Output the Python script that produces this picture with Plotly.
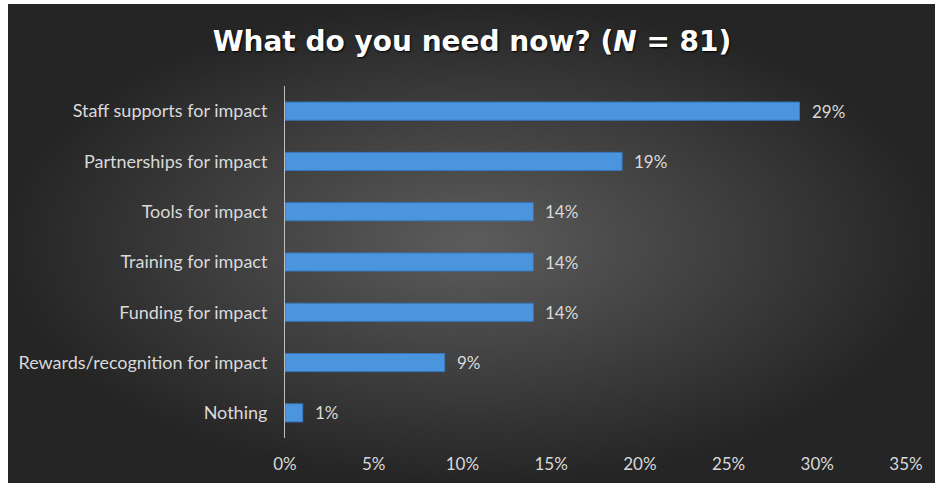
import plotly.graph_objects as go

categories = [
    "Staff supports for impact",
    "Partnerships for impact",
    "Tools for impact",
    "Training for impact",
    "Funding for impact",
    "Rewards/recognition for impact",
    "Nothing",
]
values = [0.29, 0.19, 0.14, 0.14, 0.14, 0.09, 0.01]
value_labels = ["29%", "19%", "14%", "14%", "14%", "9%", "1%"]
x_ticks = [0, 0.05, 0.10, 0.15, 0.20, 0.25, 0.30, 0.35]
x_tick_labels = ["0%", "5%", "10%", "15%", "20%", "25%", "30%", "35%"]
title_text = "What do you need now? (<i>N</i> = 81)"

W, H = 935, 483
FONT = "Lato"
LABEL_COLOR = "#d9d9d9"
EDGE = "#252525"

fig = go.Figure()

# background panel with radial gradient (full-figure helper axes)
bx0, bx1, by0, by1 = 8, W, 0, H - 4
fig.add_trace(go.Scatter(
    x=[bx0, bx1, bx1, bx0, bx0], y=[by0, by0, by1, by1, by0],
    mode="lines", fill="toself", line=dict(width=0),
    fillgradient=dict(type="radial",
                      colorscale=[[0, "#5c5c5c"], [0.55, "#3e3e3e"], [1, EDGE]]),
    hoverinfo="skip", showlegend=False, xaxis="x", yaxis="y",
))

fig.add_trace(go.Bar(
    x=values, y=categories, orientation="h",
    marker=dict(color="#4b94de", line=dict(color="#3677bd", width=1)),
    xaxis="x2", yaxis="y2", showlegend=False, hoverinfo="skip",
))

for v, c, t in zip(values, categories, value_labels):
    fig.add_annotation(x=v, y=c, xref="x2", yref="y2", text=t, showarrow=False,
                       xanchor="left", xshift=10,
                       font=dict(family=FONT, size=17, color=LABEL_COLOR))

# white page strips around the embedded chart picture
fig.add_shape(type="rect", xref="paper", yref="paper", x0=0, x1=8 / W, y0=0, y1=1,
              fillcolor="white", line=dict(width=0), layer="above")
fig.add_shape(type="rect", xref="paper", yref="paper", x0=0, x1=1, y0=1 - 4 / H, y1=1,
              fillcolor="white", line=dict(width=0), layer="above")

px0, px1 = 285, 906
py_top, py_bot = 86, 438

fig.update_layout(
    template="none",
    width=W, height=H,
    margin=dict(l=0, r=0, t=0, b=0, pad=0),
    paper_bgcolor=EDGE, plot_bgcolor="rgba(0,0,0,0)",
    title=dict(text=title_text, x=472 / W, xanchor="center", y=1 - 41 / H, yanchor="middle",
               font=dict(family="DejaVu Sans", size=28, color="white", weight="bold",
                         shadow="1px 1px 2px #000000")),
    xaxis=dict(domain=[0, 1], range=[0, W], visible=False, fixedrange=True, automargin=False),
    yaxis=dict(domain=[0, 1], range=[0, H], visible=False, fixedrange=True, automargin=False),
    xaxis2=dict(domain=[px0 / W, px1 / W], anchor="y2", range=[0, 0.35], automargin=False,
                tickvals=x_ticks, ticktext=x_tick_labels, showgrid=False, zeroline=False,
                showline=False, ticks="", ticklabelstandoff=14,
                tickfont=dict(family=FONT, size=17, color=LABEL_COLOR)),
    yaxis2=dict(domain=[1 - py_bot / H, 1 - py_top / H], anchor="x2", automargin=False,
                autorange="reversed", showgrid=False, zeroline=False,
                showline=True, linecolor="#bfbfbf", linewidth=1, ticks="",
                ticklabelstandoff=13,
                tickfont=dict(family=FONT, size=18, color=LABEL_COLOR)),
    bargap=0.64,
)

fig.write_html("out.html", config={"displayModeBar": False},
               post_script="document.body.style.margin='0';"
                           "document.body.style.background='" + EDGE + "';"
                           "document.documentElement.style.background='" + EDGE + "';")
